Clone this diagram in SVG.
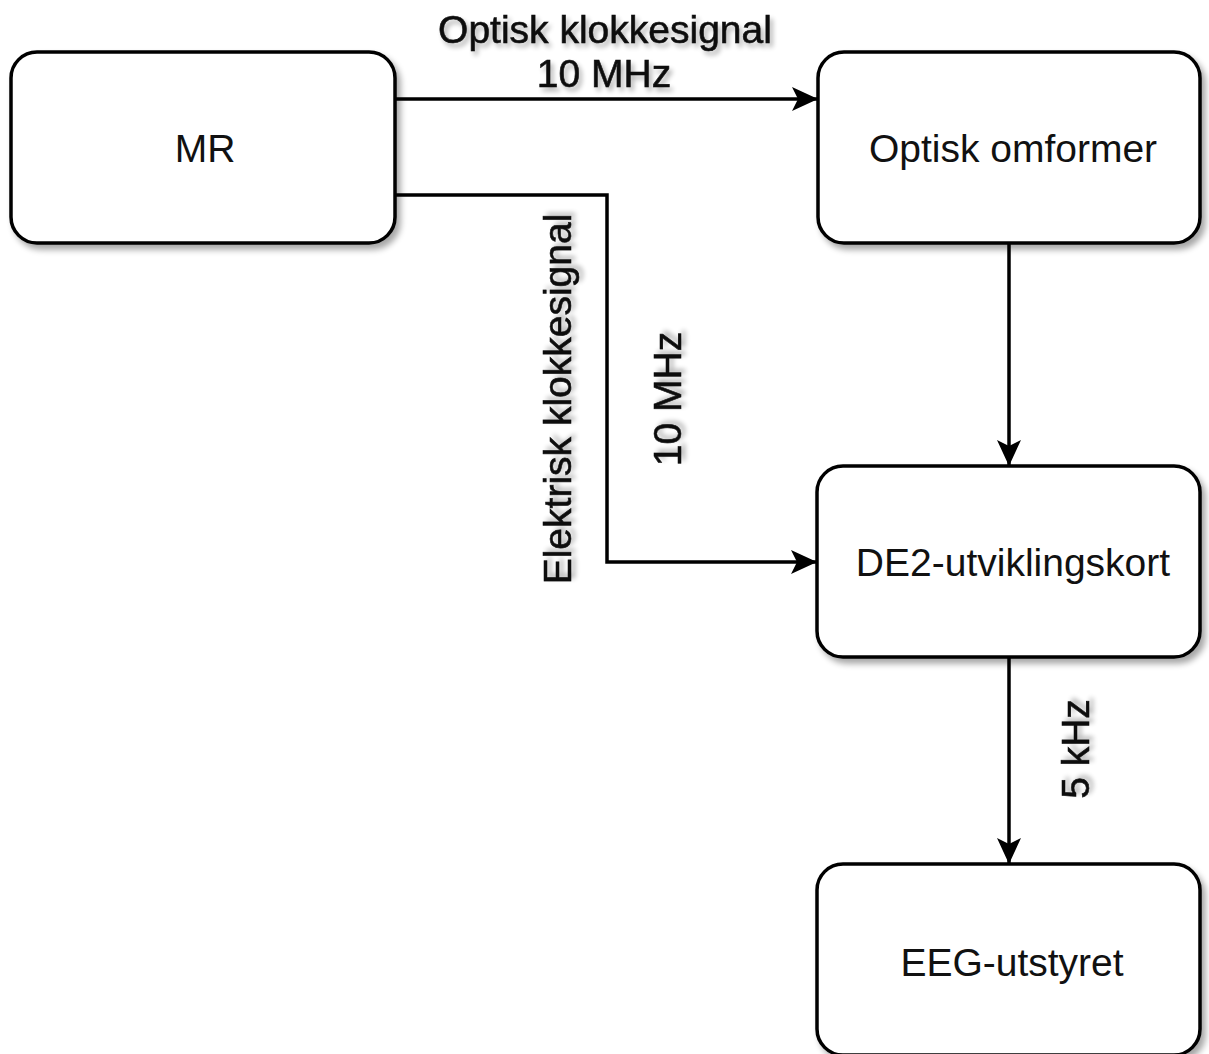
<svg xmlns="http://www.w3.org/2000/svg" width="1209" height="1054" viewBox="0 0 1209 1054">
<style>
.box{fill:#ffffff;stroke:#000000;stroke-width:3.5;filter:url(#sh)}
.t{font-family:"Liberation Sans",Arial,sans-serif;font-size:39px;fill:#111111;text-anchor:middle}
.lbl{font-family:"Liberation Sans",Arial,sans-serif;font-size:39px;fill:#111111;stroke:#111111;stroke-width:0.6;text-anchor:middle;filter:url(#tsh)}
.c{fill:none;stroke:#000000;stroke-width:3.5;marker-end:url(#arr)}
</style>
<defs>
<filter id="sh" x="-10%" y="-10%" width="130%" height="130%">
<feGaussianBlur in="SourceAlpha" stdDeviation="3"/>
<feOffset dx="4" dy="5" result="b"/>
<feComponentTransfer><feFuncA type="linear" slope="0.35"/></feComponentTransfer>
<feMerge><feMergeNode/><feMergeNode in="SourceGraphic"/></feMerge>
</filter>
<filter id="tsh" x="-10%" y="-20%" width="130%" height="150%">
<feGaussianBlur in="SourceAlpha" stdDeviation="2.5"/>
<feOffset dx="3" dy="4"/>
<feComponentTransfer><feFuncA type="linear" slope="0.3"/></feComponentTransfer>
<feMerge><feMergeNode/><feMergeNode in="SourceGraphic"/></feMerge>
</filter>
<marker id="arr" markerUnits="userSpaceOnUse" viewBox="0 0 26 24" refX="26" refY="12" markerWidth="26" markerHeight="24" orient="auto">
<path d="M0,0 L26,12 L0,24 L6,12 Z" fill="#000000"/>
</marker>
</defs>
<g id="connectors">
<path class="c" d="M395,99 L818,99"/>
<path class="c" d="M395,195 L607,195 L607,562 L817,562"/>
<path class="c" d="M1009,243 L1009,466"/>
<path class="c" d="M1009,657 L1009,864"/>
<text class="lbl" x="605" y="43">Optisk klokkesignal</text>
<text class="lbl" x="604" y="87">10 MHz</text>
<text class="lbl" transform="translate(571,399) rotate(-90)">Elektrisk klokkesignal</text>
<text class="lbl" transform="translate(681,399) rotate(-90)">10 MHz</text>
<text class="lbl" transform="translate(1089,749) rotate(-90)">5 kHz</text>
</g>
<g id="node-mr">
<rect class="box" x="11" y="52" width="384" height="191" rx="26" ry="26"/>
<text class="t" x="205" y="162">MR</text>
</g>
<g id="node-optisk">
<rect class="box" x="818" y="52" width="382" height="191" rx="26" ry="26"/>
<text class="t" x="1013" y="162">Optisk omformer</text>
</g>
<g id="node-de2">
<rect class="box" x="817" y="466" width="383" height="191" rx="26" ry="26"/>
<text class="t" x="1013" y="576">DE2-utviklingskort</text>
</g>
<g id="node-eeg">
<rect class="box" x="817" y="864" width="383" height="191" rx="26" ry="26"/>
<text class="t" x="1012" y="976">EEG-utstyret</text>
</g>
</svg>
